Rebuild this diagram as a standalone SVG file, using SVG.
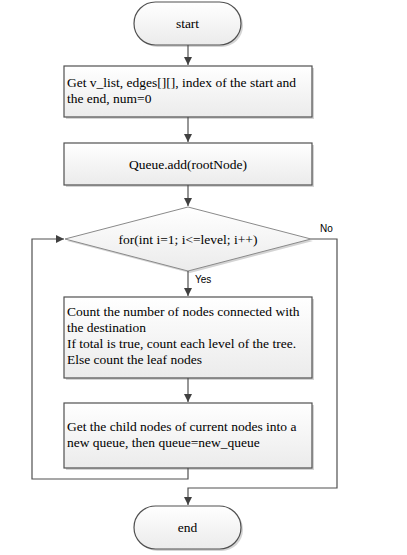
<svg xmlns="http://www.w3.org/2000/svg" width="407" height="555" viewBox="0 0 407 555">
<defs>
<linearGradient id="g" x1="0" y1="0" x2="0" y2="1">
<stop offset="0" stop-color="#ffffff"/>
<stop offset="1" stop-color="#ebebeb"/>
</linearGradient>
<marker id="arr" markerWidth="10" markerHeight="10" refX="9" refY="5" orient="auto" markerUnits="userSpaceOnUse">
<path d="M1,1 L9,5 L1,9 Z" fill="#404040"/>
</marker>
<marker id="arrd" markerWidth="12" markerHeight="12" refX="10" refY="5" orient="auto" markerUnits="userSpaceOnUse">
<path d="M0,0.5 L10,5 L0,9.5 Z" fill="#404040"/>
</marker>
</defs>
<style>
.shape{fill:url(#g);stroke:#505050;stroke-width:1.2}
.dia{fill:url(#g);stroke:#8a8a8a;stroke-width:1}
.shadow{fill:#d4d4d4}
.t{font-family:"Liberation Serif","Times New Roman",serif;font-size:13.5px;fill:#000}
.lbl{font-family:"Liberation Sans",Arial,sans-serif;font-size:10px;fill:#000}
.c{fill:none;stroke:#505050;stroke-width:1.2}
</style>
<rect width="407" height="555" fill="#ffffff"/>
<g id="start">
<rect class="shadow" x="136" y="4" width="107" height="43" rx="21.5"/>
<rect class="shape" x="134" y="2" width="107" height="43" rx="21.5"/>
<text class="t" x="187.5" y="28" text-anchor="middle">start</text>
</g>
<g id="init">
<rect class="shadow" x="66" y="68" width="248" height="51"/>
<rect class="shape" x="64" y="66" width="248" height="51"/>
<text class="t" x="67" y="87">Get v_list, edges[][], index of the start and</text>
<text class="t" x="67" y="103">the end, num=0</text>
</g>
<g id="queueadd">
<rect class="shadow" x="66" y="145" width="248" height="42"/>
<rect class="shape" x="64" y="143" width="248" height="42"/>
<text class="t" x="188" y="169" text-anchor="middle">Queue.add(rootNode)</text>
</g>
<g id="loop">
<polygon class="shadow" points="190,209 313,241 190,273 67,241"/>
<polygon class="dia" points="188,207 311,239 188,271 65,239"/>
<text class="t" x="188" y="244" text-anchor="middle">for(int i=1; i&lt;=level; i++)</text>
</g>
<g id="count">
<rect class="shadow" x="66" y="299" width="248" height="81"/>
<rect class="shape" x="64" y="297" width="248" height="81"/>
<text class="t" x="67" y="316">Count the number of nodes connected with</text>
<text class="t" x="67" y="332">the destination</text>
<text class="t" x="67" y="348">If total is true, count each level of the tree.</text>
<text class="t" x="67" y="364">Else count the leaf nodes</text>
</g>
<g id="children">
<rect class="shadow" x="66" y="405" width="248" height="65"/>
<rect class="shape" x="64" y="403" width="248" height="65"/>
<text class="t" x="67" y="431">Get the child nodes of current nodes into a</text>
<text class="t" x="67" y="447">new queue, then queue=new_queue</text>
</g>
<g id="end">
<rect class="shadow" x="136" y="508" width="107" height="43" rx="21.5"/>
<rect class="shape" x="134" y="506" width="107" height="43" rx="21.5"/>
<text class="t" x="187.5" y="532" text-anchor="middle">end</text>
</g>
<g id="connectors">
<line class="c" x1="188" y1="45" x2="188" y2="65" marker-end="url(#arr)"/>
<line class="c" x1="188" y1="117" x2="188" y2="142" marker-end="url(#arr)"/>
<line class="c" x1="188" y1="185" x2="188" y2="206" marker-end="url(#arr)"/>
<line class="c" x1="188" y1="271" x2="188" y2="296" marker-end="url(#arr)"/>
<line class="c" x1="188" y1="378" x2="188" y2="402" marker-end="url(#arr)"/>
<polyline class="c" points="188,468 188,479 32,479 32,239 64,239" marker-end="url(#arr)"/>
<polyline class="c" points="311,239 337,239 337,488 188,488 188,505" marker-end="url(#arr)"/>
<text class="lbl" x="320" y="232">No</text>
<text class="lbl" x="195" y="283">Yes</text>
</g>
</svg>
